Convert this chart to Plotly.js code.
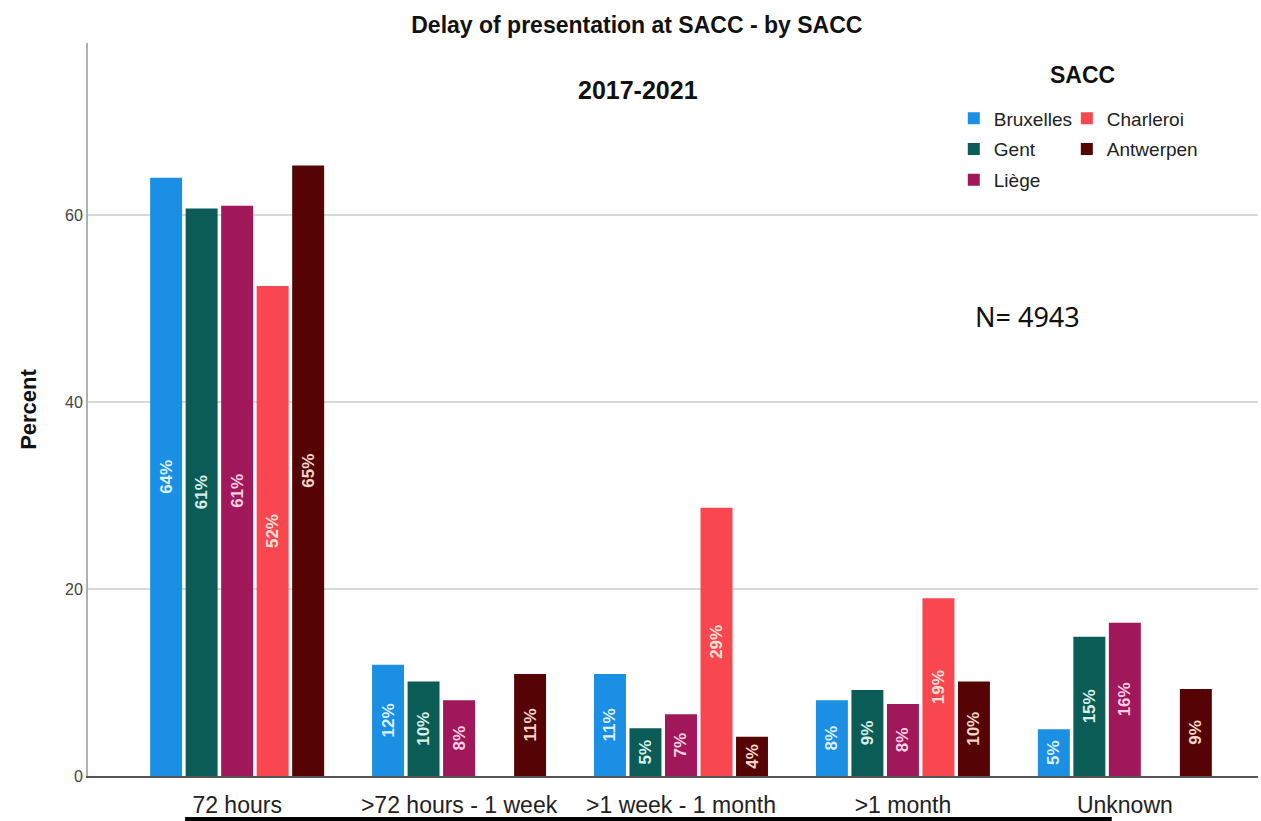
<!DOCTYPE html>
<html>
<head>
<meta charset="utf-8">
<script src="https://cdn.plot.ly/plotly-3.0.1.min.js"></script>
<style>html,body{margin:0;padding:0;background:#fff;}#chart{width:1261px;height:821px;}</style>
</head>
<body>
<div id="chart"></div>
<script>
const categories = ["72 hours", ">72 hours - 1 week", ">1 week - 1 month", ">1 month", "Unknown"];
const bruxelles = [64.0, 11.9, 10.9, 8.1, 5.0];
const gent = [60.7, 10.1, 5.1, 9.2, 14.9];
const liege = [61.0, 8.1, 6.6, 7.7, 16.4];
const charleroi = [52.4, null, 28.7, 19.0, null];
const antwerpen = [65.3, 10.9, 4.2, 10.1, 9.3];
const seriesNames = ["Bruxelles", "Gent", "Liège", "Charleroi", "Antwerpen"];
const yTicks = [0, 20, 40, 60];

const colors = ["#1A8FE3", "#0B5C57", "#A0175A", "#F9474F", "#560306"];
const textColors = ["#dcefff", "#d6f0e8", "#f9cfe2", "#ffe0d8", "#f3d6c4"];
const legendOf = ["legend", "legend", "legend", "legend2", "legend2"];
const seriesData = [bruxelles, gent, liege, charleroi, antwerpen];

const FONT = "'Liberation Sans Narrow', 'Arial Narrow', 'Liberation Sans', Arial, sans-serif";

const traces = seriesData.map((vals, i) => ({
  type: "bar",
  name: seriesNames[i],
  x: categories,
  y: vals,
  marker: {color: colors[i], line: {width: 0}},
  texttemplate: "%{y:.0f}%",
  textposition: "inside",
  insidetextanchor: "middle",
  textangle: -90,
  constraintext: "none",
  textfont: {family: FONT, size: 17, color: textColors[i], weight: "bold"},
  hoverinfo: "skip",
  legend: legendOf[i],
  legendgroup: seriesNames[i]
}));

const layout = {
  width: 1261,
  height: 821,
  margin: {l: 88, r: 3, t: 43, b: 45},
  paper_bgcolor: "#ffffff",
  plot_bgcolor: "#ffffff",
  font: {family: FONT, color: "#222"},
  title: {
    text: "Delay of presentation at SACC - by SACC",
    font: {family: FONT, size: 23, color: "#111", weight: "bold"},
    x: 0.505, xanchor: "center", y: 0.97, yanchor: "middle"
  },
  barmode: "group",
  bargap: 0.2,
  bargroupgap: 0.1,
  showlegend: true,
  xaxis: {
    type: "category",
    range: [-0.672, 4.6],
    showline: true, linecolor: "#555", linewidth: 2,
    ticks: "", showgrid: false,
    tickfont: {family: FONT, size: 23, color: "#222"},
    ticklabelstandoff: 7,
    automargin: false
  },
  yaxis: {
    range: [0, 78.4],
    tickvals: yTicks,
    showline: true, linecolor: "#b0b0b0", linewidth: 2,
    showgrid: true, gridcolor: "#d9d9d9", gridwidth: 2,
    zeroline: false,
    ticks: "",
    tickfont: {family: FONT, size: 16, color: "#444"},
    title: {text: "Percent", font: {family: FONT, size: 22, color: "#111", weight: "bold"}, standoff: 22},
    automargin: false
  },
  legend: {
    x: 0.74, xanchor: "left", y: 0.923, yanchor: "top",
    bgcolor: "rgba(0,0,0,0)",
    font: {family: FONT, size: 19, color: "#222"},
    traceorder: "grouped", tracegroupgap: 3,
    itemwidth: 30
  },
  legend2: {
    x: 0.8366, xanchor: "left", y: 0.923, yanchor: "top",
    bgcolor: "rgba(0,0,0,0)",
    font: {family: FONT, size: 19, color: "#222"},
    traceorder: "grouped", tracegroupgap: 3,
    itemwidth: 30
  },
  annotations: [
    {text: "2017-2021", xref: "paper", yref: "paper", x: 0.47, y: 0.936, xanchor: "center", yanchor: "middle",
     showarrow: false, font: {family: FONT, size: 25, color: "#111", weight: "bold"}},
    {text: "SACC", xref: "paper", yref: "paper", x: 0.85, y: 0.957, xanchor: "center", yanchor: "middle",
     showarrow: false, font: {family: FONT, size: 23, color: "#111", weight: "bold"}},
    {text: "N= 4943", xref: "paper", yref: "paper", x: 0.803, y: 0.627, xanchor: "center", yanchor: "middle",
     showarrow: false, font: {family: "'Noto Sans', 'Open Sans', sans-serif", size: 27, color: "#111"}}
  ],
  shapes: [
    {type: "line", xref: "paper", yref: "paper", x0: 0.083, x1: 0.875, y0: -0.0587, y1: -0.0587,
     line: {color: "#000", width: 4}}
  ]
};

Plotly.newPlot("chart", traces, layout, {displayModeBar: false, staticPlot: true});
</script>
</body>
</html>
